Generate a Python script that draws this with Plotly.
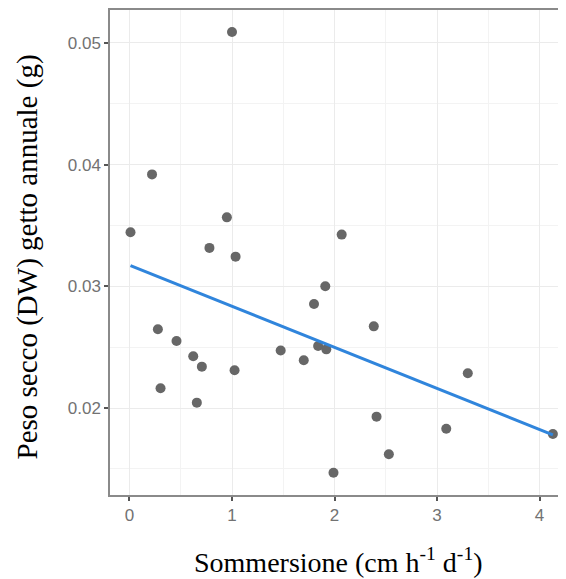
import plotly.graph_objects as go

sommersione = [0.01, 0.22, 0.277, 0.303, 0.459, 0.622, 0.657, 0.706, 0.78, 0.95,
               1.00, 1.025, 1.035, 1.475, 1.70, 1.80, 1.84, 1.91, 1.92, 1.99,
               2.07, 2.383, 2.41, 2.53, 3.09, 3.30, 4.13]
peso_secco = [0.03444, 0.0392, 0.02647, 0.02162, 0.0255, 0.02425, 0.02044, 0.0234, 0.03316, 0.03567,
              0.0509, 0.0231, 0.03244, 0.02472, 0.02392, 0.02855, 0.0251, 0.0300, 0.02482, 0.01468,
              0.03425, 0.02671, 0.01929, 0.0162, 0.0183, 0.02285, 0.01786]
fit_x = [0.01, 4.13]
fit_y = [0.0317, 0.0178]

x_ticks = [0, 1, 2, 3, 4]
y_ticks = [0.02, 0.03, 0.04, 0.05]
y_ticklabels = ["0.02", "0.03", "0.04", "0.05"]

x_title = "Sommersione (cm h<sup>-1</sup> d<sup>-1</sup>)"
y_title = "Peso secco (DW) getto annuale (g)"

fig = go.Figure()
fig.add_trace(go.Scatter(x=sommersione, y=peso_secco, mode="markers",
                         marker=dict(color="#676767", size=10, line=dict(width=0)),
                         showlegend=False))
fig.add_trace(go.Scatter(x=fit_x, y=fit_y, mode="lines",
                         line=dict(color="#3085dc", width=3), showlegend=False))

tickfont = dict(family="Liberation Sans, Arial", size=17, color="#727272")
fig.update_layout(
    width=558, height=571,
    margin=dict(l=102, r=0, t=2, b=84),
    plot_bgcolor="white", paper_bgcolor="white",
    xaxis=dict(range=[-0.19, 4.258], tickvals=x_ticks, ticks="outside", ticklen=4,
               tickcolor="#555555", tickwidth=1.5, tickfont=tickfont,
               showgrid=True, gridcolor="#ebebeb", gridwidth=1.2,
               minor=dict(dtick=0.5, tick0=0, showgrid=True, gridcolor="#f3f3f3", gridwidth=0.8),
               showline=True, linecolor="#8a8a8a", linewidth=1.5, mirror=True,
               zeroline=False, automargin=False),
    yaxis=dict(range=[0.01285, 0.05271], tickvals=y_ticks, ticktext=y_ticklabels,
               ticks="outside", ticklen=4, tickcolor="#555555", tickwidth=1.5, tickfont=tickfont,
               showgrid=True, gridcolor="#ebebeb", gridwidth=1.2,
               minor=dict(dtick=0.005, tick0=0, showgrid=True, gridcolor="#f3f3f3", gridwidth=0.8),
               showline=True, linecolor="#8a8a8a", linewidth=1.5, mirror=False,
               zeroline=False, automargin=False),
    annotations=[
        dict(text=x_title, xref="paper", yref="paper", x=0.5, y=0,
             xanchor="center", yanchor="middle", yshift=-65, showarrow=False,
             font=dict(family="Liberation Serif, Times New Roman", size=28, color="black")),
        dict(text=y_title, xref="paper", yref="paper", x=0, y=0.5, textangle=-90,
             xanchor="center", yanchor="middle", xshift=-83, yshift=-5, showarrow=False,
             font=dict(family="Liberation Serif, Times New Roman", size=29, color="black")),
    ],
)
fig.write_html("out.html")
